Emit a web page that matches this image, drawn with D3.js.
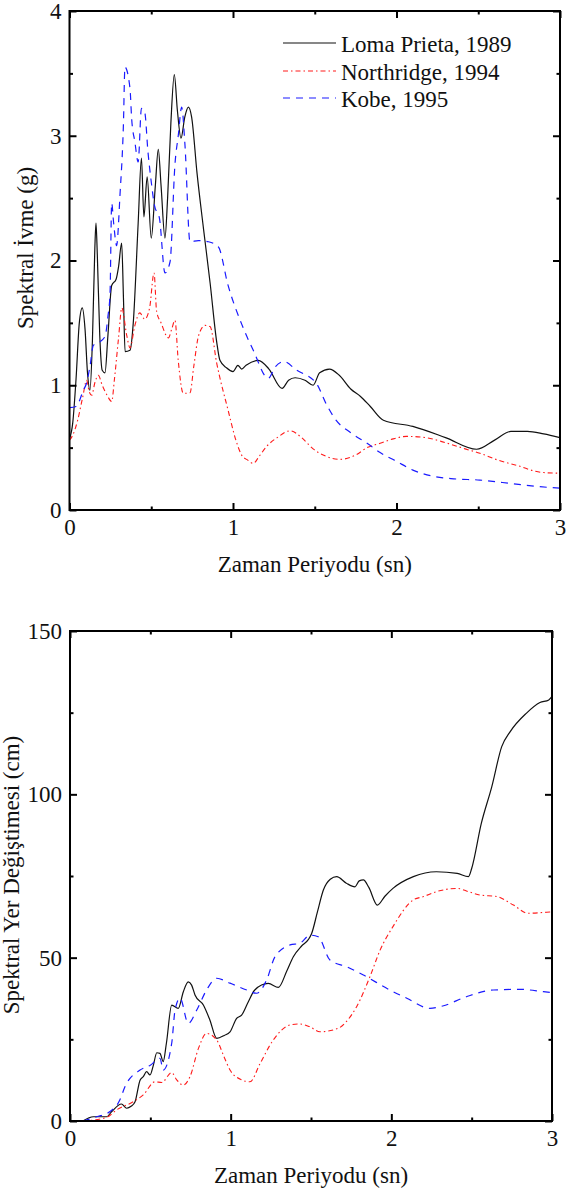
<!DOCTYPE html>
<html>
<head>
<meta charset="utf-8">
<script src="https://cdn.jsdelivr.net/npm/d3@7/dist/d3.min.js"></script>
<style>
  html, body { margin: 0; padding: 0; background: #fff; }
  svg { display: block; }
</style>
</head>
<body>
<svg id="chart" width="570" height="1189"></svg>
<script>
// Earthquake names for the legend
const seriesNames = ["Loma Prieta, 1989", "Northridge, 1994", "Kobe, 1995"];

// Spectral acceleration (g) vs period (s)
const accLomaT = [0, 0.02, 0.04, 0.06, 0.078, 0.095, 0.11, 0.125, 0.14, 0.155, 0.162, 0.17, 0.185, 0.2, 0.217, 0.235, 0.258, 0.285, 0.30, 0.319, 0.33, 0.34, 0.37, 0.39, 0.42, 0.44, 0.455, 0.475, 0.50, 0.525, 0.543, 0.56, 0.584, 0.60, 0.62, 0.641, 0.66, 0.682, 0.705, 0.727, 0.747, 0.78, 0.82, 0.86, 0.90, 0.92, 0.96, 1.0, 1.03, 1.053, 1.08, 1.155, 1.22, 1.30, 1.34, 1.38, 1.44, 1.49, 1.53, 1.59, 1.65, 1.72, 1.78, 1.84, 1.92, 2.10, 2.30, 2.49, 2.60, 2.70, 2.80, 2.90, 3.0];
const accLoma  = [0.57, 0.70, 1.05, 1.50, 1.62, 1.45, 1.10, 0.96, 1.35, 2.10, 2.30, 2.05, 1.40, 1.12, 1.10, 1.40, 1.80, 1.85, 1.95, 2.14, 1.70, 1.27, 1.28, 1.50, 2.30, 2.82, 2.35, 2.67, 2.18, 2.60, 2.89, 2.60, 2.18, 2.50, 3.10, 3.49, 3.20, 2.98, 3.15, 3.23, 3.15, 2.70, 2.25, 1.82, 1.35, 1.20, 1.14, 1.11, 1.16, 1.13, 1.16, 1.20, 1.13, 0.975, 1.04, 1.06, 1.04, 1.00, 1.10, 1.13, 1.08, 0.97, 0.91, 0.83, 0.72, 0.67, 0.58, 0.487, 0.56, 0.63, 0.63, 0.61, 0.58];

const accNorthT = [0, 0.02, 0.05, 0.08, 0.105, 0.12, 0.136, 0.155, 0.176, 0.2, 0.23, 0.258, 0.275, 0.30, 0.32, 0.35, 0.37, 0.40, 0.43, 0.46, 0.49, 0.517, 0.533, 0.56, 0.605, 0.625, 0.645, 0.665, 0.696, 0.737, 0.76, 0.79, 0.829, 0.86, 0.90, 0.97, 1.02, 1.053, 1.09, 1.124, 1.16, 1.206, 1.27, 1.35, 1.42, 1.49, 1.57, 1.655, 1.75, 1.82, 1.90, 1.98, 2.06, 2.18, 2.31, 2.42, 2.51, 2.62, 2.755, 2.85, 2.90, 3.0];
const accNorth  = [0.56, 0.60, 0.72, 0.90, 1.04, 0.95, 0.92, 1.02, 1.08, 1.00, 0.92, 0.87, 1.05, 1.38, 1.62, 1.40, 1.30, 1.48, 1.58, 1.53, 1.62, 1.90, 1.59, 1.50, 1.38, 1.45, 1.52, 1.20, 0.935, 0.94, 1.15, 1.40, 1.48, 1.47, 1.18, 0.80, 0.55, 0.44, 0.40, 0.374, 0.43, 0.51, 0.58, 0.635, 0.58, 0.49, 0.43, 0.406, 0.44, 0.50, 0.535, 0.57, 0.59, 0.58, 0.535, 0.49, 0.455, 0.40, 0.35, 0.31, 0.30, 0.295];

const accKobeT = [0, 0.04, 0.085, 0.105, 0.125, 0.146, 0.176, 0.217, 0.235, 0.248, 0.258, 0.27, 0.288, 0.309, 0.33, 0.339, 0.37, 0.38, 0.40, 0.42, 0.44, 0.46, 0.48, 0.50, 0.52, 0.55, 0.584, 0.615, 0.645, 0.666, 0.686, 0.706, 0.737, 0.788, 0.85, 0.91, 0.97, 1.05, 1.124, 1.216, 1.26, 1.31, 1.39, 1.51, 1.57, 1.63, 1.72, 1.82, 1.90, 2.0, 2.10, 2.225, 2.35, 2.51, 2.715, 2.85, 3.0];
const accKobe  = [0.82, 0.83, 0.96, 1.02, 1.15, 1.32, 1.34, 1.39, 1.55, 1.74, 2.46, 2.30, 2.12, 2.53, 3.10, 3.55, 3.38, 3.14, 2.95, 2.79, 3.22, 3.19, 2.87, 2.63, 2.44, 2.34, 1.90, 1.99, 2.77, 3.01, 3.23, 2.93, 2.15, 2.16, 2.15, 2.11, 1.80, 1.50, 1.28, 1.056, 1.15, 1.19, 1.12, 1.015, 0.85, 0.72, 0.62, 0.535, 0.46, 0.39, 0.32, 0.27, 0.25, 0.24, 0.21, 0.19, 0.175];

// Spectral displacement (cm) vs period (s)
const dispLomaT = [0.08, 0.145, 0.228, 0.26, 0.32, 0.353, 0.38, 0.405, 0.436, 0.456, 0.477, 0.498, 0.519, 0.54, 0.56, 0.58, 0.60, 0.633, 0.674, 0.705, 0.736, 0.757, 0.778, 0.83, 0.87, 0.913, 0.96, 0.996, 1.037, 1.068, 1.11, 1.15, 1.234, 1.297, 1.35, 1.39, 1.44, 1.483, 1.504, 1.54, 1.577, 1.62, 1.66, 1.72, 1.774, 1.80, 1.826, 1.86, 1.913, 1.96, 2.01, 2.137, 2.28, 2.41, 2.48, 2.50, 2.56, 2.625, 2.687, 2.74, 2.84, 2.925, 2.98, 3.0];
const dispLoma  = [0, 1.3, 1.3, 2.9, 5.2, 3.9, 4.5, 5.9, 12.5, 13.6, 15.1, 14.1, 17.1, 20.9, 20.7, 18.2, 23.8, 35.5, 34.5, 39.5, 42.6, 41.6, 38.6, 35.5, 31.0, 25.3, 26.2, 27.3, 31.4, 32.4, 36.5, 40.1, 42.1, 40.9, 46.0, 50.3, 53.5, 55.5, 57.4, 64.0, 70.7, 74.0, 74.8, 72.8, 71.7, 73.5, 73.8, 71.5, 66.1, 68.8, 71.2, 74.8, 76.3, 75.8, 74.8, 77.3, 91.1, 102.3, 114.6, 119.2, 124.8, 128.1, 128.9, 130.0];

const dispNorthT = [0.08, 0.228, 0.29, 0.394, 0.456, 0.529, 0.571, 0.633, 0.664, 0.705, 0.747, 0.80, 0.85, 0.913, 0.96, 0.996, 1.068, 1.12, 1.183, 1.265, 1.37, 1.43, 1.49, 1.556, 1.67, 1.73, 1.784, 1.867, 1.93, 2.01, 2.137, 2.2, 2.28, 2.41, 2.48, 2.55, 2.656, 2.76, 2.85, 2.967, 3.0];
const dispNorth  = [0, 1.1, 3.4, 5.9, 8.0, 12.0, 11.8, 14.8, 12.6, 11.0, 13.6, 22.3, 26.8, 24.8, 19.5, 15.6, 12.6, 12.0, 17.6, 24.8, 29.4, 29.7, 28.9, 27.3, 28.4, 31.0, 35.0, 44.2, 52.3, 59.5, 67.7, 68.7, 70.2, 71.2, 70.2, 69.2, 68.7, 66.1, 63.6, 63.9, 64.0];

const dispKobeT = [0.08, 0.166, 0.249, 0.31, 0.342, 0.436, 0.50, 0.56, 0.58, 0.633, 0.654, 0.685, 0.736, 0.789, 0.85, 0.913, 0.996, 1.10, 1.162, 1.224, 1.276, 1.37, 1.43, 1.494, 1.545, 1.618, 1.722, 1.826, 1.99, 2.096, 2.24, 2.32, 2.47, 2.635, 2.80, 2.946, 3.0];
const dispKobe  = [0, 1.3, 2.9, 6.4, 10.5, 15.6, 17.1, 19.2, 15.6, 23.8, 34.0, 37.6, 29.9, 34.0, 40.1, 43.7, 42.2, 40.1, 39.1, 43.2, 50.3, 53.9, 54.4, 56.9, 56.4, 49.3, 47.2, 44.7, 40.1, 37.6, 34.5, 35.2, 38.1, 40.1, 40.3, 39.6, 39.3];

// Axis ticks
const xMajor = [0, 1, 2, 3];
const xMinor = [0.5, 1.5, 2.5];
const accMajor = [0, 1, 2, 3, 4];
const accMinor = [0.5, 1.5, 2.5, 3.5];
const dispMajor = [0, 50, 100, 150];
const dispMinor = [25, 75, 125];

const styles = [
  { color: "#111", width: 1.2, dash: null },
  { color: "#ff1a1a", width: 1.1, dash: "5,3,1.5,3" },
  { color: "#1a1aff", width: 1.2, dash: "7,6" }
];

const svg = d3.select("#chart");
const FONT = 23;
const SERIF = "Liberation Serif";

function zip(t, v) { return t.map((d, i) => [d, v[i]]); }

function panel(opt) {
  const { left, right, top, bottom, yDomain, yMajor, yMinor, series, yLabel, yLabelX, yLabelY, legend } = opt;
  const x = d3.scaleLinear().domain([0, 3]).range([left, right]);
  const y = d3.scaleLinear().domain(yDomain).range([bottom, top]);
  const g = svg.append("g");

  // Clip for the traces
  const clipId = "clip" + top;
  svg.append("clipPath").attr("id", clipId)
    .append("rect").attr("x", left).attr("y", top).attr("width", right - left).attr("height", bottom - top);

  const line = d3.line().x(d => x(d[0])).y(d => y(d[1])).curve(d3.curveMonotoneX);
  const traces = g.append("g").attr("clip-path", `url(#${clipId})`);
  series.forEach((s, i) => {
    const st = styles[i];
    traces.append("path")
      .datum(s)
      .attr("d", line)
      .attr("fill", "none")
      .attr("stroke", st.color)
      .attr("stroke-width", st.width)
      .attr("stroke-dasharray", st.dash)
      .attr("stroke-linejoin", "round");
  });

  // Ticks pointing inward on all four sides
  function ticks(axis, transform, vals, size, labels, pad) {
    const a = axis.tickValues(vals).tickSize(-size).tickSizeOuter(0).tickPadding(pad || 8)
      .tickFormat(labels ? d3.format("d") : "");
    const ag = g.append("g").attr("transform", transform).call(a);
    ag.attr("font-family", SERIF).attr("font-size", FONT);
    ag.select(".domain").remove();
    ag.selectAll("line").attr("stroke", "#000").attr("stroke-width", 2);
    ag.selectAll("text")
      .attr("font-family", SERIF)
      .attr("font-size", FONT)
      .attr("fill", "#111");
    return ag;
  }
  ticks(d3.axisBottom(x), `translate(0,${bottom})`, xMajor, 7, true, 9);
  ticks(d3.axisBottom(x), `translate(0,${bottom})`, xMinor, 3.5, false);
  ticks(d3.axisTop(x), `translate(0,${top})`, xMajor, 7, false);
  ticks(d3.axisTop(x), `translate(0,${top})`, xMinor, 3.5, false);
  ticks(d3.axisLeft(y), `translate(${left},0)`, yMajor, 7, true, 8);
  ticks(d3.axisLeft(y), `translate(${left},0)`, yMinor, 3.5, false);
  ticks(d3.axisRight(y), `translate(${right},0)`, yMajor, 7, false);
  ticks(d3.axisRight(y), `translate(${right},0)`, yMinor, 3.5, false);

  // Frame
  g.append("rect")
    .attr("x", left).attr("y", top)
    .attr("width", right - left).attr("height", bottom - top)
    .attr("fill", "none").attr("stroke", "#000").attr("stroke-width", 2);

  // Axis titles
  g.append("text")
    .attr("x", (left + right) / 2).attr("y", bottom + 62)
    .attr("text-anchor", "middle")
    .attr("font-family", SERIF)
    .attr("font-size", FONT)
    .attr("fill", "#111")
    .text("Zaman Periyodu (sn)");
  g.append("text")
    .attr("transform", `translate(${yLabelX},${yLabelY}) rotate(-90)`)
    .attr("text-anchor", "middle")
    .attr("font-family", SERIF)
    .attr("font-size", FONT)
    .attr("fill", "#111")
    .text(yLabel);

  if (legend) {
    const rows = [43, 71, 98];
    seriesNames.forEach((name, i) => {
      const st = styles[i];
      g.append("line")
        .attr("x1", 283).attr("x2", 336)
        .attr("y1", rows[i]).attr("y2", rows[i])
        .attr("stroke", st.color).attr("stroke-width", st.width)
        .attr("stroke-dasharray", st.dash);
      g.append("text")
        .attr("x", 341).attr("y", rows[i] + 8.5)
        .attr("font-family", SERIF)
        .attr("font-size", FONT)
        .attr("fill", "#111")
        .text(name);
    });
  }
}

panel({
  left: 69.5, right: 560, top: 11, bottom: 510,
  yDomain: [0, 4], yMajor: accMajor, yMinor: accMinor,
  series: [zip(accLomaT, accLoma), zip(accNorthT, accNorth), zip(accKobeT, accKobe)],
  yLabel: "Spektral İvme (g)", yLabelX: 33, yLabelY: 248, legend: true
});

panel({
  left: 70, right: 552, top: 631, bottom: 1121,
  yDomain: [0, 150], yMajor: dispMajor, yMinor: dispMinor,
  series: [zip(dispLomaT, dispLoma), zip(dispNorthT, dispNorth), zip(dispKobeT, dispKobe)],
  yLabel: "Spektral Yer Değiştimesi (cm)", yLabelX: 19, yLabelY: 875, legend: false
});
</script>
</body>
</html>
